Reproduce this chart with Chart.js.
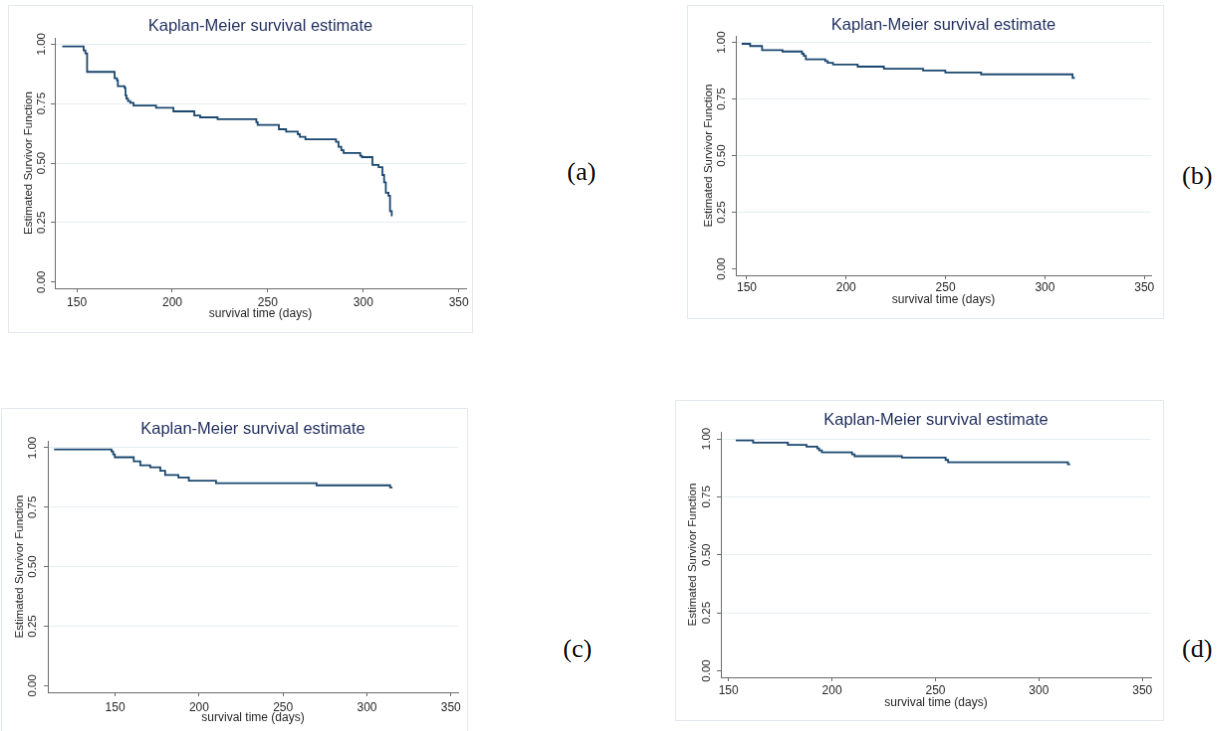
<!DOCTYPE html>
<html>
<head>
<meta charset="utf-8">
<script src="https://cdn.jsdelivr.net/npm/chart.js@4"></script>
<style>
  html, body { margin: 0; padding: 0; background: #fff; width: 1217px; height: 731px; overflow: hidden; }
  canvas { position: absolute; border: 1px solid #e3e9ee; }
  .tag { position: absolute; font-family: "Liberation Serif", "Times New Roman", serif; font-size: 26px; line-height: 26px; color: #111; }
</style>
</head>
<body>
<canvas id="km-a"></canvas>
<canvas id="km-b"></canvas>
<canvas id="km-c"></canvas>
<canvas id="km-d"></canvas>
<div class="tag" style="left:567px;top:159px">(a)</div>
<div class="tag" style="left:1182px;top:163px">(b)</div>
<div class="tag" style="left:563px;top:636px">(c)</div>
<div class="tag" style="left:1182px;top:636px">(d)</div>
<script>
// tick labels
const xTicks = [150, 200, 250, 300, 350];
const yTicks = [0, 0.25, 0.5, 0.75, 1];

// (a) survival times and estimates
const aTime = [142.4, 153.6, 154.5, 155.4, 169.8, 171.0, 171.5, 175.0, 175.5, 176.0, 176.8, 178.0, 179.7, 191.5, 200.6,
  211.5, 214.6, 223.7, 244.0, 244.7, 255.8, 259.6, 265.7, 266.8, 269.7, 285.7, 287.0, 288.5, 289.7, 298.4, 299.3,
  304.8, 308.0, 310.0, 310.9, 311.8, 313.2, 314.0, 314.9, 315.3];
const aSurv = [0.990, 0.973, 0.961, 0.883, 0.856, 0.848, 0.823, 0.816, 0.784, 0.771, 0.760, 0.753, 0.742, 0.732, 0.717,
  0.700, 0.692, 0.684, 0.672, 0.660, 0.642, 0.632, 0.621, 0.610, 0.600, 0.589, 0.568, 0.554, 0.542, 0.531, 0.525,
  0.492, 0.483, 0.450, 0.419, 0.375, 0.363, 0.298, 0.280, 0.280];

// (b)
const bTime = [147.4, 151.7, 157.7, 168.0, 177.8, 178.7, 179.7, 189.5, 190.7, 193.4, 205.8, 219.0, 238.7, 249.9, 267.9, 313.9, 315.1];
const bSurv = [0.994, 0.984, 0.966, 0.960, 0.950, 0.941, 0.925, 0.918, 0.910, 0.902, 0.893, 0.884, 0.876, 0.867, 0.859, 0.843, 0.843];

// (c)
const cTime = [113.6, 147.8, 148.8, 149.8, 161.1, 165.0, 170.9, 176.9, 179.8, 187.7, 193.9, 210.1, 270.0, 313.8, 315.2];
const cSurv = [0.993, 0.985, 0.972, 0.960, 0.943, 0.926, 0.918, 0.903, 0.885, 0.875, 0.861, 0.851, 0.842, 0.833, 0.833];

// (d)
const dTime = [153.5, 161.9, 178.7, 187.7, 192.9, 193.8, 195.1, 209.7, 210.9, 233.8, 254.9, 256.1, 314.0, 315.1];
const dSurv = [0.993, 0.983, 0.974, 0.966, 0.959, 0.950, 0.942, 0.933, 0.925, 0.919, 0.909, 0.899, 0.890, 0.890];

const FONT = '"Liberation Sans", Arial, sans-serif';
const LINE = '#1a476f';
const TEXT = '#262626';
const AXIS = '#6b6b6b';
const GRID = '#e6eef1';
const TL = 4; // tick mark length

// page placement of each panel (box = outer frame, plot = axes rectangle)
const panels = [
  { id: 'km-a', time: aTime, surv: aSurv, box: [8, 5, 475, 335], plot: [55, 38, 468, 290],
    titleY: 26.7, tickY: 304.3, xTitleY: 315.7, yTitleX: 29.3, yTickX: 41.7, xMin: 138.5, xMax: 353.8, yMin: -0.026, yMax: 1.026 },
  { id: 'km-b', time: bTime, surv: bSurv, box: [687, 5, 1166, 321], plot: [736, 36, 1153, 277],
    titleY: 25, tickY: 290, xTitleY: 301.7, yTitleX: 708.4, yTickX: 721.8, xMin: 144.5, xMax: 353.4, yMin: -0.028, yMax: 1.029 },
  { id: 'km-c', time: cTime, surv: cSurv, box: [1, 408, 470, 740], plot: [48, 441, 460, 694],
    titleY: 429.3, tickY: 709.3, xTitleY: 720, yTitleX: 20, yTickX: 33.3, xMin: 109.9, xMax: 354.3, yMin: -0.028, yMax: 1.029 },
  { id: 'km-d', time: dTime, surv: dSurv, box: [675, 400, 1166, 723], plot: [721, 432, 1153, 679],
    titleY: 420.7, tickY: 692.7, xTitleY: 704.3, yTitleX: 692.7, yTickX: 706.6, xMin: 146.3, xMax: 354.2, yMin: -0.028, yMax: 1.03 }
];

const measure = document.createElement('canvas').getContext('2d');
measure.font = '11.5px ' + FONT;
const widestY = Math.max(...yTicks.map(v => measure.measureText(v.toFixed(2)).width));

function drawPanel(p) {
  const cv = document.getElementById(p.id);
  const ox = p.box[0] + 1, oy = p.box[1] + 1;
  const W = p.box[2] - p.box[0] - 2, H = p.box[3] - p.box[1] - 2;
  cv.style.left = p.box[0] + 'px';
  cv.style.top = p.box[1] + 'px';
  cv.width = W; cv.height = H;
  cv.style.width = W + 'px'; cv.style.height = H + 'px';

  const L = p.plot[0] - ox, T = p.plot[1] - oy, R = p.plot[2] - ox, B = p.plot[3] - oy;
  const titleLH = 16.5 * 1.2;
  const titleTop = p.titleY - oy - titleLH / 2;
  const xTickPad = (p.tickY - oy) - B - TL - 12 * 1.2 / 2;
  const yTickPad = L - TL - widestY / 2 - (p.yTickX - ox);
  const yTitlePad = (p.yTitleX - ox) - 11.5 * 1.2 / 2;
  const xTitlePad = H - (p.xTitleY - oy) - 12 * 1.2 / 2;

  new Chart(cv, {
    type: 'line',
    data: {
      datasets: [{
        data: p.time.map((t, i) => ({ x: t, y: p.surv[i] })),
        borderColor: LINE,
        borderWidth: 1.8,
        stepped: true,
        pointRadius: 0,
        fill: false
      }]
    },
    options: {
      responsive: false,
      animation: false,
      events: [],
      layout: { padding: { left: 0, top: 0, bottom: 0, right: W - R } },
      plugins: {
        legend: { display: false },
        tooltip: { enabled: false },
        title: {
          display: true,
          fullSize: false,
          text: 'Kaplan-Meier survival estimate',
          color: '#1f2d5c',
          font: { family: FONT, size: 16.5, weight: 'normal', lineHeight: 1.2 },
          padding: { top: titleTop, bottom: T - titleTop - titleLH }
        }
      },
      scales: {
        x: {
          type: 'linear',
          min: p.xMin, max: p.xMax,
          afterBuildTicks: s => { s.ticks = xTicks.map(v => ({ value: v })); },
          afterFit: s => { s.height = H - B; s.paddingLeft = 0; s.paddingRight = 0; },
          border: { display: true, color: AXIS, width: 1 },
          grid: { drawOnChartArea: false, drawTicks: true, tickLength: TL, tickColor: AXIS },
          ticks: { color: TEXT, padding: xTickPad, maxRotation: 0, font: { family: FONT, size: 12 } },
          title: { display: true, text: 'survival time (days)', color: TEXT,
                   font: { family: FONT, size: 12 }, padding: { top: 0, bottom: xTitlePad } }
        },
        y: {
          type: 'linear',
          min: p.yMin, max: p.yMax,
          afterBuildTicks: s => { s.ticks = yTicks.map(v => ({ value: v })); },
          afterFit: s => { s.width = L; s.paddingTop = 0; s.paddingBottom = 0; },
          border: { display: true, color: AXIS, width: 1 },
          grid: { color: ctx => (ctx.tick && ctx.tick.value === 0) ? 'rgba(0,0,0,0)' : GRID,
                  drawTicks: true, tickLength: TL, tickColor: AXIS },
          ticks: { color: TEXT, padding: yTickPad, minRotation: 90, maxRotation: 90, crossAlign: 'center',
                   font: { family: FONT, size: 11.5 }, callback: v => Number(v).toFixed(2) },
          title: { display: true, text: 'Estimated Survivor Function', color: TEXT,
                   font: { family: FONT, size: 11.5 }, padding: { top: yTitlePad, bottom: 0 } }
        }
      }
    }
  });
}

panels.forEach(drawPanel);
</script>
</body>
</html>
